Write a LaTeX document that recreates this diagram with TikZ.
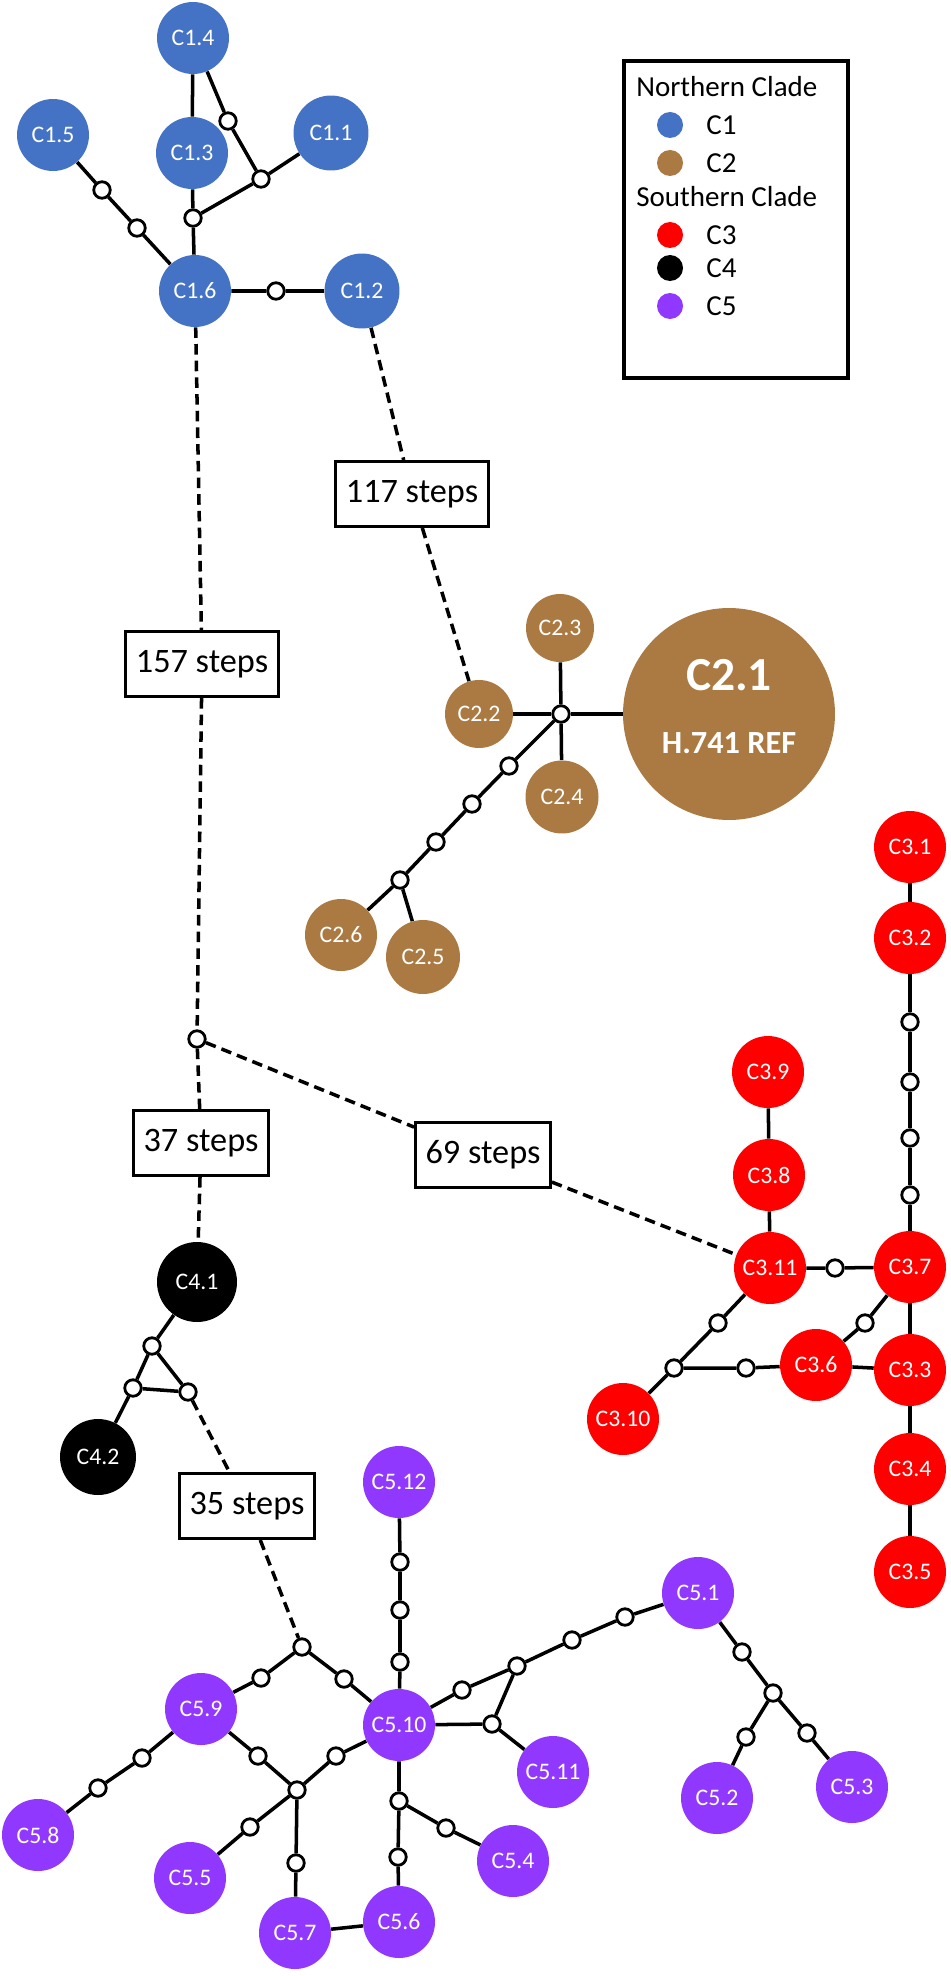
\documentclass[tikz,border=0pt]{standalone}
\usepackage{fontspec}
\setmainfont{Carlito}
\usepackage{tikz}
\usetikzlibrary{positioning}
\definecolor{cblue}{RGB}{68,114,196}
\definecolor{cbrown}{RGB}{170,122,66}
\definecolor{cred}{RGB}{255,0,0}
\definecolor{cpurple}{RGB}{145,56,255}
\tikzstyle{hap}=[inner sep=0pt, shape=circle, minimum size=1.44cm, text=white, font=\fontsize{13.5}{16}\selectfont]
\tikzstyle{mv}=[inner sep=0pt, draw, fill=white, shape=circle, minimum size=0.33cm, line width=1.6pt]
\tikzstyle{stepbox}=[inner xsep=0.2cm, draw, fill=white, shape=rectangle, minimum height=1.3cm, line width=1.7pt, font=\fontsize{19.5}{22}\selectfont]
\tikzstyle{edge}=[line width=2pt]
\tikzstyle{jump}=[line width=2pt, dash pattern=on 6pt off 3.5pt]
\tikzstyle{key}=[inner sep=0pt, shape=circle, minimum size=0.52cm]
\tikzstyle{keytext}=[inner sep=0pt, anchor=west, font=\fontsize{16.5}{20}\selectfont]

\begin{document}
\begin{tikzpicture}[x=0.02cm, y=-0.02cm]
\useasboundingbox (0,0) rectangle (950,1976);
% the legend
\draw[line width=1.8pt] (624,61) rectangle (848,378);
\node[keytext] (north) at (636,87) {Northern Clade};
\node[key, fill=cblue] (k1) at (670,125) {};
\node[keytext] (k1t) at (706,125) {C1};
\node[key, fill=cbrown] (k2) at (670,163) {};
\node[keytext] (k2t) at (706,163) {C2};
\node[keytext] (south) at (636,197) {Southern Clade};
\node[key, fill=cred] (k3) at (670,235) {};
\node[keytext] (k3t) at (706,235) {C3};
\node[key, fill=black] (k4) at (670,268) {};
\node[keytext] (k4t) at (706,268) {C4};
\node[key, fill=cpurple] (k5) at (670,306) {};
\node[keytext] (k5t) at (706,306) {C5};
% the C1 haplotypes
\node[hap, fill=cblue] (C14) at (193,38) {C1.4};
\node[hap, fill=cblue] (C13) at (192,153) {C1.3};
\node[hap, fill=cblue] (C15) at (53,135) {C1.5};
\node[hap, fill=cblue, minimum size=1.5cm] (C11) at (331,133) {C1.1};
\node[hap, fill=cblue] (C16) at (195,291) {C1.6};
\node[hap, fill=cblue, minimum size=1.5cm] (C12) at (362,291) {C1.2};
\node[mv] (a1) at (228,121) {};
\node[mv] (a2) at (261,179) {};
\node[mv] (a3) at (193,218) {};
\node[mv] (a4) at (102,190) {};
\node[mv] (a5) at (137,228) {};
\node[mv] (a6) at (276,291) {};
\draw[edge] (C14) -- (C13) -- (a3) -- (C16);
\draw[edge] (C14) -- (a1) -- (a2) -- (C11);
\draw[edge] (a2) -- (a3);
\draw[edge] (C15) -- (a4) -- (a5) -- (C16) -- (a6) -- (C12);
% the C2 haplotypes
\node[hap, fill=cbrown, minimum size=4.24cm] (C21) at (729,714) {};
\node[text=white, font=\fontsize{27}{30}\selectfont\bfseries] (C21a) at (729,675) {C2.1};
\node[text=white, font=\fontsize{18.4}{22}\selectfont\bfseries] (C21b) at (729,743) {H.741 REF};
\node[hap, fill=cbrown, minimum size=1.36cm] (C22) at (479,714) {C2.2};
\node[hap, fill=cbrown, minimum size=1.36cm] (C23) at (560,628) {C2.3};
\node[hap, fill=cbrown, minimum size=1.46cm] (C24) at (562,797) {C2.4};
\node[hap, fill=cbrown] (C26) at (341,935) {C2.6};
\node[hap, fill=cbrown, minimum size=1.48cm] (C25) at (423,957) {C2.5};
\node[mv] (b0) at (561,714) {};
\node[mv] (b1) at (509,766) {};
\node[mv] (b2) at (472,804) {};
\node[mv] (b3) at (436,842) {};
\node[mv] (b4) at (400,880) {};
\draw[edge] (C22) -- (b0) -- (C21);
\draw[edge] (C23) -- (b0) -- (C24);
\draw[edge] (b0) -- (b1) -- (b2) -- (b3) -- (b4) -- (C26);
\draw[edge] (b4) -- (C25);
% the C3 haplotypes
\node[hap, fill=cred] (C31) at (910,847) {C3.1};
\node[hap, fill=cred] (C32) at (910,938) {C3.2};
\node[hap, fill=cred] (C37) at (910,1267) {C3.7};
\node[hap, fill=cred] (C33) at (910,1370) {C3.3};
\node[hap, fill=cred] (C34) at (910,1469) {C3.4};
\node[hap, fill=cred] (C35) at (910,1572) {C3.5};
\node[hap, fill=cred] (C39) at (768,1072) {C3.9};
\node[hap, fill=cred] (C38) at (769,1175) {C3.8};
\node[hap, fill=cred] (C311) at (770,1268) {C3.11};
\node[hap, fill=cred] (C36) at (816,1365) {C3.6};
\node[hap, fill=cred] (C310) at (623,1419) {C3.10};
\node[mv] (c1) at (910,1022) {};
\node[mv] (c2) at (910,1082) {};
\node[mv] (c3) at (910,1138) {};
\node[mv] (c4) at (910,1195) {};
\node[mv] (c5) at (835,1268) {};
\node[mv] (c6) at (865,1323) {};
\node[mv] (c7) at (718,1323) {};
\node[mv] (c8) at (674,1368) {};
\node[mv] (c9) at (746,1368) {};
\draw[edge] (C31) -- (C32) -- (c1) -- (c2) -- (c3) -- (c4) -- (C37) -- (C33) -- (C34) -- (C35);
\draw[edge] (C39) -- (C38) -- (C311) -- (c5) -- (C37) -- (c6) -- (C36) -- (C33);
\draw[edge] (C311) -- (c7) -- (c8) -- (c9) -- (C36);
\draw[edge] (c8) -- (C310);
% the C4 haplotypes
\node[hap, fill=black, minimum size=1.6cm] (C41) at (197,1282) {C4.1};
\node[hap, fill=black, minimum size=1.52cm] (C42) at (98,1457) {C4.2};
\node[mv] (d1) at (152,1346) {};
\node[mv] (d2) at (133,1388) {};
\node[mv] (d3) at (188,1392) {};
\draw[edge] (C41) -- (d1) -- (d2) -- (C42);
\draw[edge] (d1) -- (d3) -- (d2);
% the C5 haplotypes
\node[hap, fill=cpurple] (C512) at (399,1482) {C5.12};
\node[hap, fill=cpurple] (C510) at (399,1725) {C5.10};
\node[hap, fill=cpurple] (C59) at (201,1709) {C5.9};
\node[hap, fill=cpurple] (C58) at (38,1835) {C5.8};
\node[hap, fill=cpurple] (C55) at (190,1878) {C5.5};
\node[hap, fill=cpurple] (C57) at (295,1933) {C5.7};
\node[hap, fill=cpurple] (C56) at (399,1922) {C5.6};
\node[hap, fill=cpurple] (C54) at (513,1861) {C5.4};
\node[hap, fill=cpurple] (C511) at (553,1772) {C5.11};
\node[hap, fill=cpurple] (C51) at (698,1593) {C5.1};
\node[hap, fill=cpurple] (C52) at (717,1798) {C5.2};
\node[hap, fill=cpurple] (C53) at (852,1787) {C5.3};
\node[mv] (e1) at (400,1562) {};
\node[mv] (e2) at (400,1610) {};
\node[mv] (e3) at (400,1662) {};
\node[mv] (e4) at (302,1647) {};
\node[mv] (e5) at (261,1678) {};
\node[mv] (e6) at (344,1679) {};
\node[mv] (e7) at (142,1758) {};
\node[mv] (e8) at (98,1788) {};
\node[mv] (e9) at (258,1756) {};
\node[mv] (e10) at (297,1790) {};
\node[mv] (e11) at (336,1756) {};
\node[mv] (e12) at (250,1827) {};
\node[mv] (e13) at (296,1863) {};
\node[mv] (e14) at (399,1801) {};
\node[mv] (e15) at (398,1857) {};
\node[mv] (e16) at (446,1828) {};
\node[mv] (e17) at (462,1690) {};
\node[mv] (e18) at (517,1666) {};
\node[mv] (e19) at (492,1724) {};
\node[mv] (e20) at (572,1640) {};
\node[mv] (e21) at (625,1617) {};
\node[mv] (e22) at (742,1652) {};
\node[mv] (e23) at (773,1693) {};
\node[mv] (e24) at (746,1737) {};
\node[mv] (e25) at (807,1733) {};
\draw[edge] (C512) -- (e1) -- (e2) -- (e3) -- (C510);
\draw[edge] (C59) -- (e5) -- (e4) -- (e6) -- (C510);
\draw[edge] (C58) -- (e8) -- (e7) -- (C59) -- (e9) -- (e10) -- (e11) -- (C510);
\draw[edge] (C55) -- (e12) -- (e10) -- (e13) -- (C57) -- (C56);
\draw[edge] (C510) -- (e14) -- (e15) -- (C56);
\draw[edge] (e14) -- (e16) -- (C54);
\draw[edge] (C510) -- (e17) -- (e18) -- (e20) -- (e21) -- (C51);
\draw[edge] (C510) -- (e19) -- (e18);
\draw[edge] (e19) -- (C511);
\draw[edge] (C51) -- (e22) -- (e23) -- (e24) -- (C52);
\draw[edge] (e23) -- (e25) -- (C53);
% the long jumps between clades
\node[mv] (x0) at (197,1039) {};
\node[stepbox] (s117) at (412,494) {117 steps};
\node[stepbox] (s157) at (202,664) {157 steps};
\node[stepbox] (s37) at (201,1143) {37 steps};
\node[stepbox] (s69) at (483,1155) {69 steps};
\node[stepbox] (s35) at (247,1506) {35 steps};
\draw[jump] (C12) -- (s117) -- (C22);
\draw[jump] (C16) -- (s157) -- (x0) -- (s37) -- (C41);
\draw[jump] (x0) -- (s69) -- (C311);
\draw[jump] (d3) -- (s35) -- (e4);
\end{tikzpicture}
\end{document}
